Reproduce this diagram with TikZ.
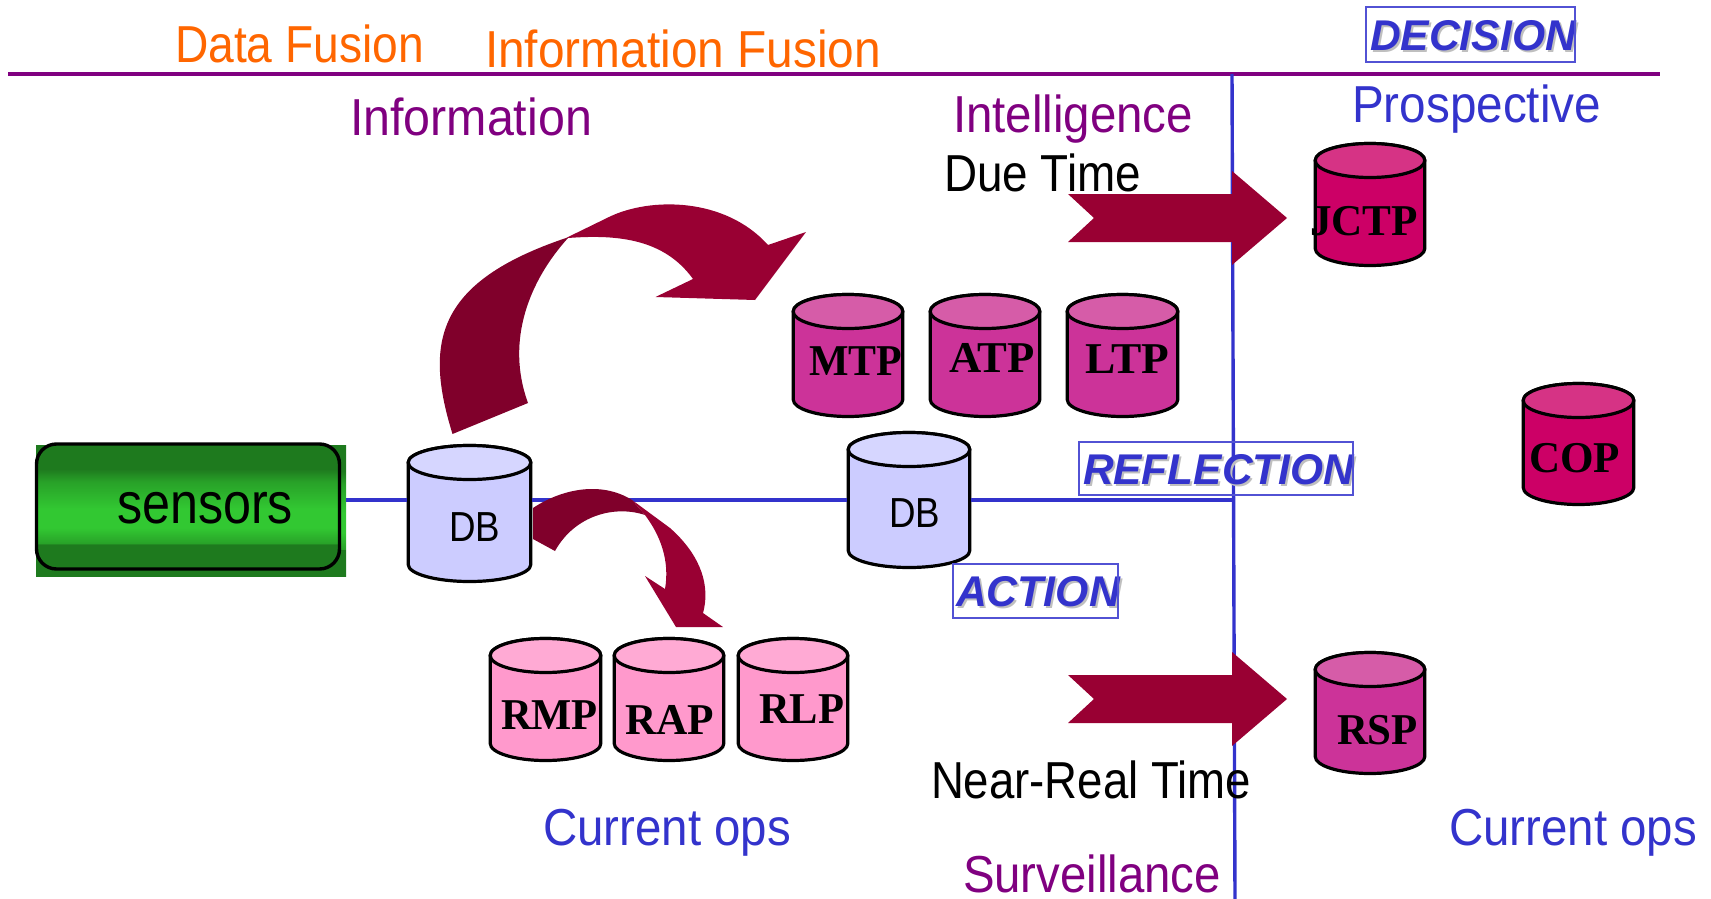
\documentclass[tikz,border=0pt]{standalone}
\usepackage{fontspec}
\usepackage{graphicx}
\setmainfont{Liberation Sans}
\newfontfamily\tms{Liberation Serif}[BoldFont={* Bold}]
\definecolor{cOrange}{RGB}{255,102,0}
\definecolor{cPurple}{RGB}{128,0,128}
\definecolor{cBlue}{RGB}{51,51,204}
\definecolor{cArrow}{RGB}{153,0,51}
\definecolor{cArrowDark}{RGB}{128,0,43}
\definecolor{cDk}{RGB}{30,122,30}
\definecolor{cLt}{RGB}{50,200,50}
\pgfdeclareverticalshading{sensorshade}{100bp}{color(0bp)=(cDk); color(25bp)=(cDk); color(35bp)=(cDk); color(35.1bp)=(cDk!50!cLt); color(41.5bp)=(cLt); color(49bp)=(cLt); color(60bp)=(cDk!50!cLt); color(65bp)=(cDk); color(75bp)=(cDk); color(100bp)=(cDk)}
\tikzset{
  cylbody/.style={line width=3.2pt,draw=black,line join=round},
  anchorbox/.style={inner sep=0pt,outer sep=0pt},
  rule/.style={line width=3.4pt},
  framebox/.style={draw=cBlue!85!white,line width=1.4pt,inner sep=0pt}
}
% name, x1, x2, top, bottom, body colour rgb, top colour rgb
\newcommand{\cylshape}[7]{%
  \pgfmathsetlengthmacro{\cylrx}{(#3-#2)/2-1.2}%
  \pgfmathsetlengthmacro{\cylry}{17}%
  \pgfmathsetmacro{\cylcx}{(#2+#3)/2}%
  \pgfmathsetmacro{\cylcy}{(#4+#5)/2}%
  \pgfmathsetmacro{\cylyt}{#4+18.5}%
  \pgfmathsetmacro{\cylyb}{#5-18.5}%
  \pgfmathsetmacro{\cylxa}{#2+1.2}%
  \pgfmathsetmacro{\cylxb}{#3-1.2}%
  \definecolor{tmpBody}{RGB}{#6}\definecolor{tmpTop}{RGB}{#7}%
  \path[fill=tmpBody,cylbody] (\cylxa,\cylyt) -- (\cylxa,\cylyb) arc[x radius=\cylrx,y radius=\cylry,start angle=180,end angle=360] -- (\cylxb,\cylyt) arc[x radius=\cylrx,y radius=\cylry,start angle=0,end angle=180] -- cycle;
  \path[fill=tmpTop,cylbody] (\cylcx,\cylyt) ellipse[x radius=\cylrx,y radius=\cylry];
  \pgfmathsetlengthmacro{\cylw}{#3-#2}\pgfmathsetlengthmacro{\cylh}{#5-#4}%
  \node[anchorbox,minimum width=\cylw,minimum height=\cylh] (#1) at (\cylcx,\cylcy) {};%
}
% name, left, right, baseline, size, colour, font, text
\newcommand{\lbl}[8]{%
  \pgfmathsetlengthmacro{\lblw}{#3-#2}%
  \node[anchorbox,anchor=base west,text=#6] (#1) at (#2,#4) {\resizebox{\lblw}{\height}{\fontsize{#5pt}{#5pt}\selectfont #7{#8}}};%
}
\begin{document}
\begin{tikzpicture}[x=1pt,y=-1pt]
\useasboundingbox (0,0) rectangle (1711,899);
% rules
\coordinate (hl) at (8,74); \coordinate (hr) at (1660,74);
\coordinate (vt) at (1232,74); \coordinate (vb) at (1235,899); \coordinate (vm) at (1233,500);
\draw[rule,cPurple] (hl) -- (hr);
\draw[rule,cBlue] (vt) -- (vb);
% sensors
\node[anchorbox,minimum width=310pt,minimum height=131pt,shading=sensorshade] (sensorbg) at (191,510.5) {};
\node[anchorbox,draw=black,line width=3.4pt,rounded corners=20pt,minimum width=303pt,minimum height=125pt,shading=sensorshade] (sensors) at (188,506.5) {};
\lbl{sensorstxt}{117}{293}{523}{58}{black}{}{sensors}
% databases
\cylshape{db1}{407}{532}{444}{583}{204,204,255}{214,214,255}
\cylshape{db2}{847}{971}{431}{569}{204,204,255}{214,214,255}
\coordinate (s1) at (sensorbg.east|-vm); \coordinate (d1w) at (db1.west|-vm); \coordinate (d1e) at (db1.east|-vm);
\coordinate (d2w) at (db2.west|-vm); \coordinate (d2e) at (db2.east|-vm);
\draw[rule,cBlue] (s1) -- (d1w);
\draw[rule,cBlue] (d1e) -- (d2w);
\draw[rule,cBlue] (d2e) -- (vm);
\lbl{dbatxt}{449}{500}{541}{42}{black}{}{DB}
\lbl{dbbtxt}{889}{940}{527}{42}{black}{}{DB}
% plans
\cylshape{mtp}{792}{904}{293}{418}{204,51,153}{214,92,168}
\cylshape{atp}{929}{1041}{293}{418}{204,51,153}{214,92,168}
\cylshape{ltp}{1066}{1179}{293}{418}{204,51,153}{214,92,168}
\cylshape{rmp}{489}{602}{637}{762}{255,153,204}{255,170,212}
\cylshape{rap}{613}{725}{637}{762}{255,153,204}{255,170,212}
\cylshape{rlp}{737}{849}{637}{762}{255,153,204}{255,170,212}
\cylshape{jctp}{1314}{1426}{142}{267}{204,0,102}{214,51,133}
\cylshape{cop}{1522}{1635}{382}{506}{204,0,102}{214,51,133}
\cylshape{rsp}{1314}{1426}{651}{775}{204,51,153}{214,92,168}
\lbl{mtptxt}{809}{902}{375}{44}{black}{\tms\bfseries}{MTP}
\lbl{atptxt}{949}{1035}{372}{44}{black}{\tms\bfseries}{ATP}
\lbl{ltptxt}{1085}{1169}{373}{44}{black}{\tms\bfseries}{LTP}
\lbl{rmptxt}{501}{598}{729}{44}{black}{\tms\bfseries}{RMP}
\lbl{raptxt}{625}{714}{734}{44}{black}{\tms\bfseries}{RAP}
\lbl{rlptxt}{759}{844}{723}{44}{black}{\tms\bfseries}{RLP}
\lbl{jctptxt}{1310}{1418}{235}{44}{black}{\tms\bfseries}{JCTP}
\lbl{coptxt}{1529}{1620}{472}{44}{black}{\tms\bfseries}{COP}
\lbl{rsptxt}{1337}{1418}{744}{44}{black}{\tms\bfseries}{RSP}
% straight arrows
\fill[cArrow] (1068,194) -- (1232,194) -- (1232,171) -- (1287,218) -- (1232,265) -- (1232,242) -- (1068,242) -- (1094,218) -- cycle;
\fill[cArrow] (1068,675) -- (1232,675) -- (1232,652) -- (1287,699) -- (1232,746) -- (1232,723) -- (1068,723) -- (1094,699) -- cycle;
% upper curved arrow
\fill[cArrowDark] (452.5,434) .. controls (424,342) and (436,282) .. (566,238) -- (568,238) .. controls (530,280) and (505,340) .. (528,403) -- cycle;
\fill[cArrow] (566,238) -- (609,217) .. controls (650,197) and (725,197) .. (768,245) -- (806,232) -- (755,300) -- (655.5,297) -- (693,279) .. controls (665,240) and (620,234) .. (568,238) -- cycle;
% lower curved arrow
\fill[cArrowDark] (533,508) .. controls (560,490) and (600,480) .. (632,500) -- (645,515) .. controls (615,505) and (575,515) .. (555,551) -- (533,539) -- cycle;
\fill[cArrow] (632,500) -- (670,528) .. controls (695,550) and (712,580) .. (703,613) -- (723,627) -- (676,627) -- (645,576) -- (665,589) .. controls (670,560) and (660,535) .. (645,515) -- cycle;
% headings
\lbl{datafusion}{175}{424}{63}{52}{cOrange}{}{Data Fusion}
\lbl{infofusion}{485}{881}{68}{52}{cOrange}{}{Information Fusion}
\lbl{information}{350}{592}{135}{52}{cPurple}{}{Information}
\lbl{intelligence}{953}{1193}{132}{52}{cPurple}{}{Intelligence}
\lbl{duetime}{944}{1141}{191}{52}{black}{}{Due Time}
\lbl{prospective}{1352}{1601}{122}{52}{cBlue}{}{Prospective}
\lbl{currentl}{543}{791}{845}{52}{cBlue}{}{Current ops}
\lbl{currentr}{1449}{1697}{845}{52}{cBlue}{}{Current ops}
\lbl{nearreal}{931}{1251}{798}{52}{black}{}{Near-Real Time}
\lbl{surveillance}{963}{1221}{892}{52}{cPurple}{}{Surveillance}
% framed words
\lbl{decisionsh}{1372}{1578}{53}{43}{black!25}{\bfseries\itshape}{DECISION}
\lbl{decision}{1370}{1576}{51}{43}{cBlue}{\bfseries\itshape}{DECISION}
\node[framebox,minimum width=209pt,minimum height=55pt] (decisionbox) at (1470.5,34.5) {};
\lbl{reflectionsh}{1085}{1356}{486}{43}{black!25}{\bfseries\itshape}{REFLECTION}
\lbl{reflection}{1083}{1354}{484}{43}{cBlue}{\bfseries\itshape}{REFLECTION}
\node[framebox,minimum width=274pt,minimum height=53pt] (reflectionbox) at (1216,468.5) {};
\lbl{actionsh}{958}{1122}{608}{43}{black!25}{\bfseries\itshape}{ACTION}
\lbl{action}{956}{1120}{606}{43}{cBlue}{\bfseries\itshape}{ACTION}
\node[framebox,minimum width=165pt,minimum height=54pt] (actionbox) at (1035.5,591) {};
\end{tikzpicture}
\end{document}
